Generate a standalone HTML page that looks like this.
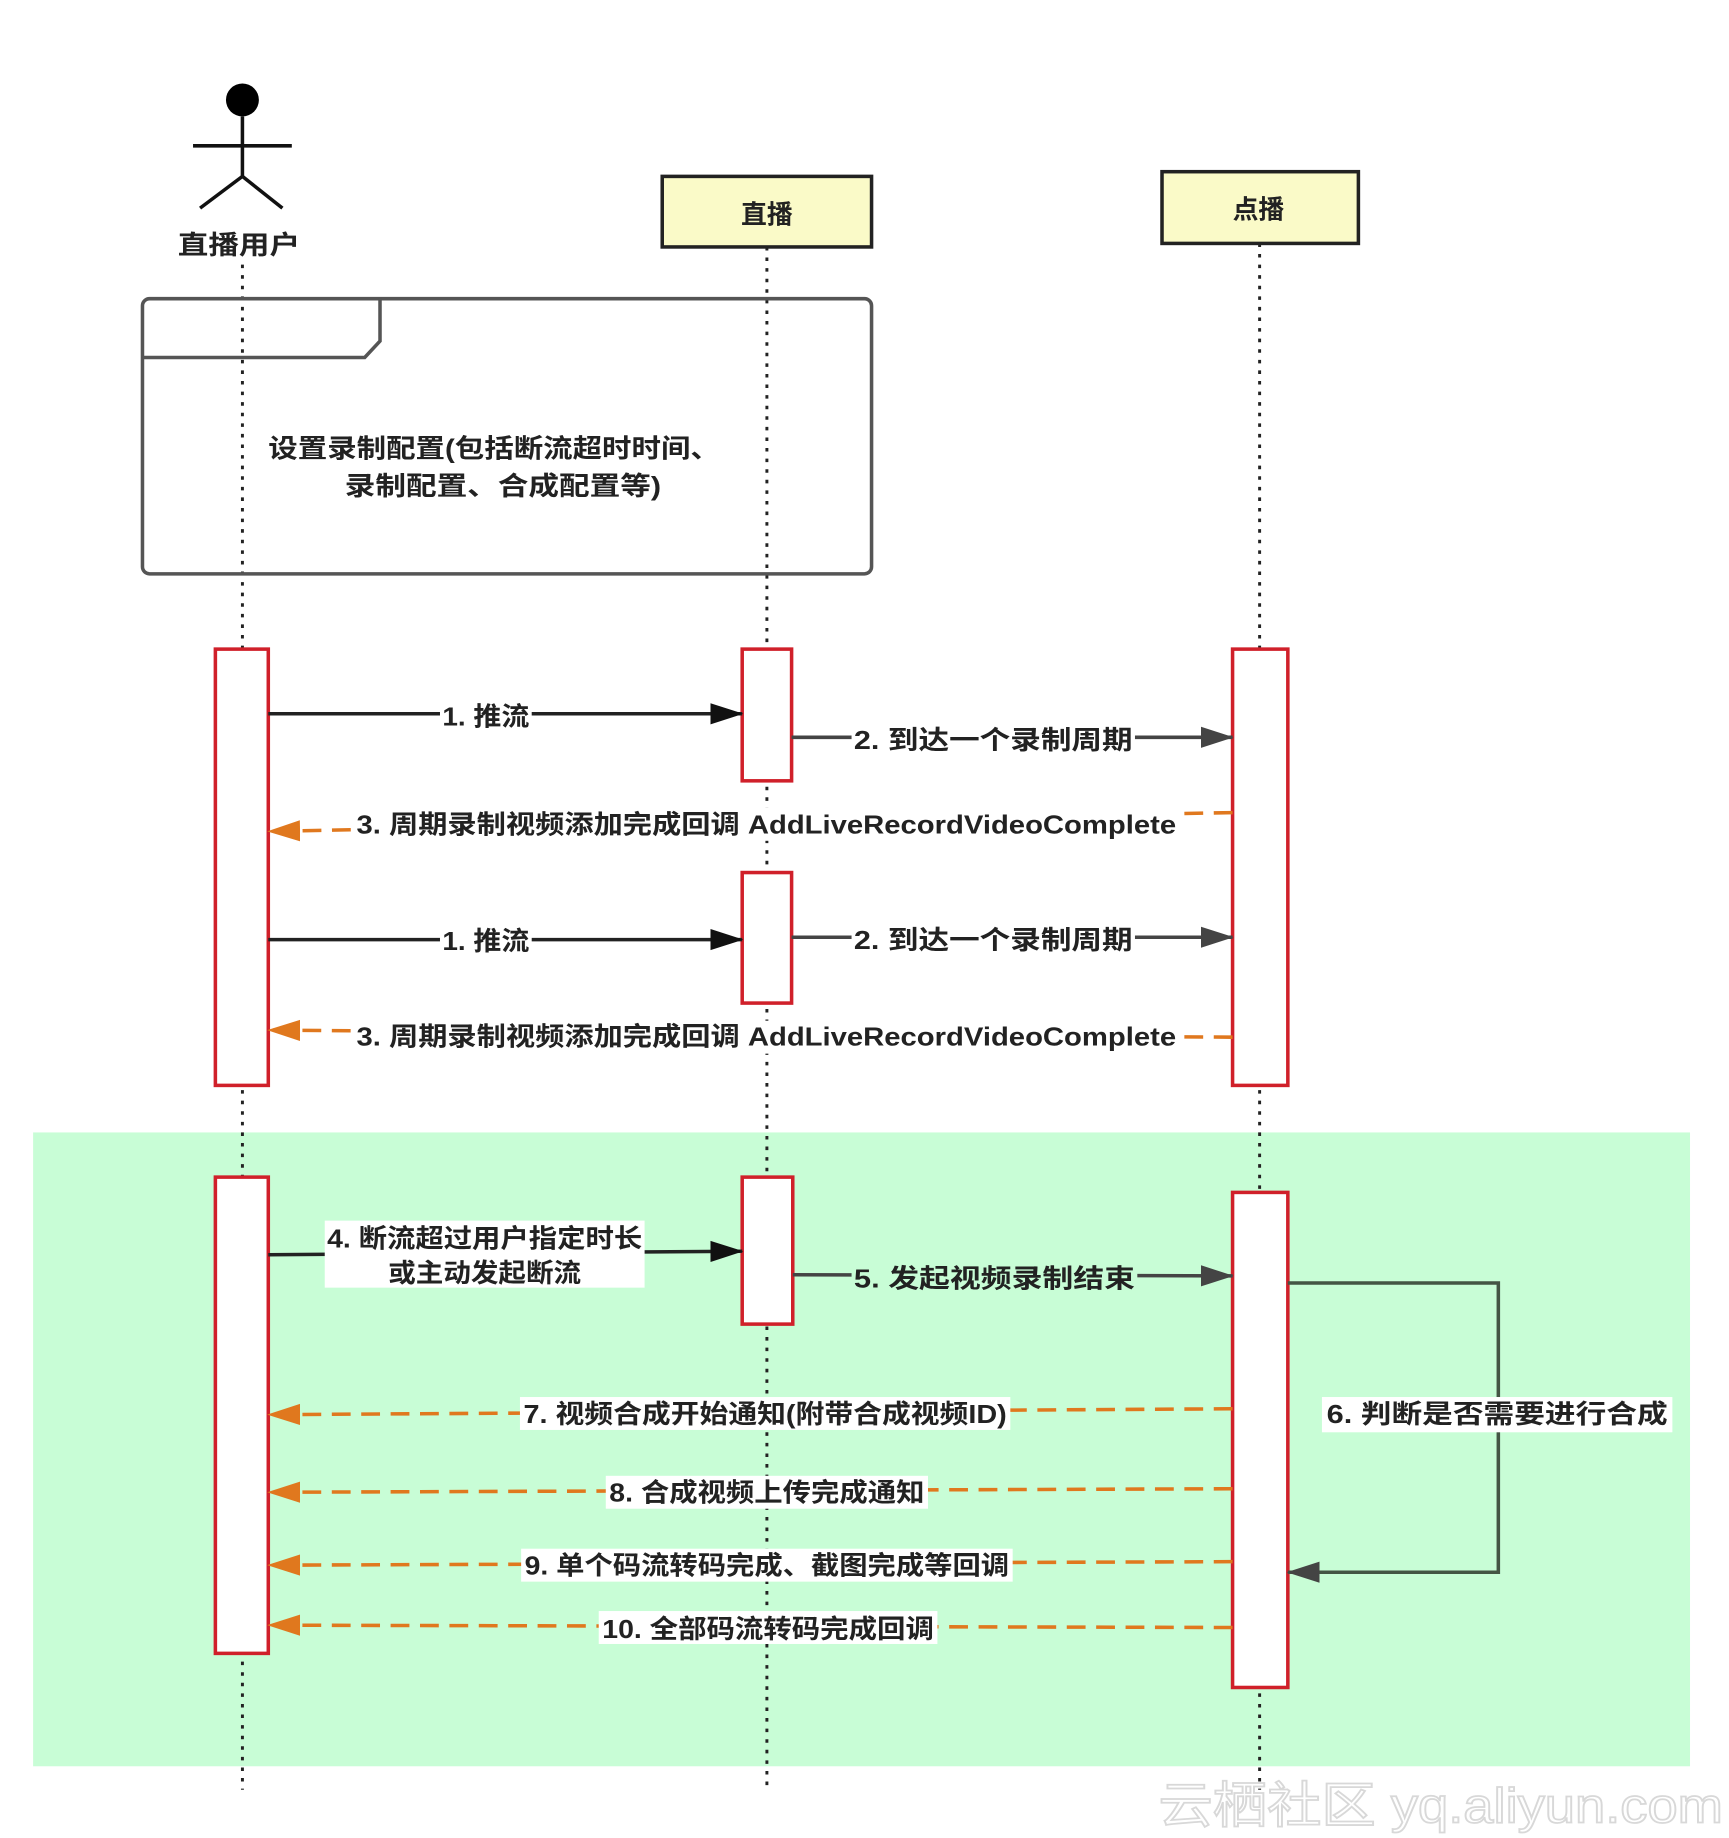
<!DOCTYPE html>
<html><head><meta charset="utf-8"><style>
html,body{margin:0;padding:0;background:#fff;}
svg{display:block;}
text{font-family:"Liberation Sans","Noto Sans CJK SC",sans-serif;font-weight:bold;fill:#222;}
</style></head><body>
<svg width="1729" height="1838" viewBox="0 0 1470 1563" xmlns="http://www.w3.org/2000/svg">
<defs>
<marker id="ag" markerWidth="28" markerHeight="20" refX="27" refY="10" orient="auto" markerUnits="userSpaceOnUse"><path d="M0,1 L28,10 L0,19 z" fill="#444"/></marker>
<marker id="ak" markerWidth="28" markerHeight="20" refX="27" refY="10" orient="auto" markerUnits="userSpaceOnUse"><path d="M0,1 L28,10 L0,19 z" fill="#111"/></marker>
<marker id="ao" markerWidth="28" markerHeight="20" refX="27" refY="10" orient="auto" markerUnits="userSpaceOnUse"><path d="M0,1 L28,10 L0,19 z" fill="#e0781e"/></marker>
</defs>
<rect x="28" y="963" width="1409" height="539" fill="#c8fdd6"/>
<circle cx="206" cy="85" r="14" fill="#000"/>
<g stroke="#111" stroke-width="3" fill="none">
<line x1="206" y1="99" x2="206" y2="150"/><line x1="164" y1="124" x2="248" y2="124"/>
<line x1="206" y1="150" x2="170" y2="177"/><line x1="206" y1="150" x2="240" y2="177"/>
</g>
<text x="151" y="216" font-size="22" textLength="104" lengthAdjust="spacingAndGlyphs">直播用户</text>
<rect x="563" y="150" width="178" height="60" fill="#fafac8" stroke="#222" stroke-width="3"/>
<text x="652" y="190" font-size="22" text-anchor="middle">直播</text>
<rect x="988" y="146" width="167" height="61" fill="#fafac8" stroke="#222" stroke-width="3"/>
<text x="1070" y="186" font-size="22" text-anchor="middle">点播</text>
<g stroke="#222" stroke-width="2.5" stroke-dasharray="3 6">
<line x1="206" y1="225" x2="206" y2="1522"/><line x1="652" y1="210" x2="652" y2="1522"/><line x1="1071" y1="207" x2="1071" y2="1522"/>
</g>
<rect x="121" y="254" width="620" height="234" rx="6" fill="none" stroke="#555" stroke-width="3"/>
<path d="M121,304 L310,304 L323,290 L323,254" fill="none" stroke="#555" stroke-width="3"/>
<text x="228" y="389" font-size="22" textLength="384" lengthAdjust="spacingAndGlyphs">设置录制配置(包括断流超时时间、</text>
<text x="293" y="421" font-size="22" textLength="269" lengthAdjust="spacingAndGlyphs">录制配置、合成配置等)</text>
<g fill="#fff" stroke="#d0202a" stroke-width="3">
<rect x="183" y="552" width="45" height="371"/><rect x="631" y="552" width="42" height="112"/>
<rect x="1048" y="552" width="47" height="371"/><rect x="631" y="742" width="42" height="111"/>
<rect x="183" y="1001" width="45" height="405"/><rect x="631" y="1001" width="43" height="125"/>
<rect x="1048" y="1014" width="47" height="421"/>
</g>
<g stroke-width="3" fill="none">
<line x1="228" y1="607" x2="631" y2="607" stroke="#222" marker-end="url(#ak)"/>
<line x1="673" y1="627" x2="1048" y2="627" stroke="#444" marker-end="url(#ag)"/>
<line x1="228" y1="799" x2="631" y2="799" stroke="#222" marker-end="url(#ak)"/>
<line x1="673" y1="797" x2="1048" y2="797" stroke="#444" marker-end="url(#ag)"/>
<line x1="228" y1="1067" x2="631" y2="1064" stroke="#222" marker-end="url(#ak)"/>
<line x1="674" y1="1084" x2="1048" y2="1085" stroke="#444" marker-end="url(#ag)"/>
<path d="M1095,1091 L1274,1091 L1274,1337 L1095,1337" stroke="#445544" marker-end="url(#ag)"/>
</g>
<g stroke="#e0781e" stroke-width="3" stroke-dasharray="16 9" fill="none">
<line x1="1048" y1="691" x2="228" y2="707" marker-end="url(#ao)"/>
<line x1="1048" y1="882" x2="228" y2="876" marker-end="url(#ao)"/>
<line x1="1048" y1="1198" x2="228" y2="1203" marker-end="url(#ao)"/>
<line x1="1048" y1="1266" x2="228" y2="1269" marker-end="url(#ao)"/>
<line x1="1048" y1="1328" x2="228" y2="1331" marker-end="url(#ao)"/>
<line x1="1048" y1="1384" x2="228" y2="1382" marker-end="url(#ao)"/>
</g>
<g fill="#fff">
<rect x="374" y="596" width="78" height="26"/><rect x="724" y="614" width="241" height="28"/>
<rect x="300" y="687" width="702" height="28"/>
<rect x="374" y="787" width="78" height="26"/><rect x="724" y="784" width="241" height="28"/>
<rect x="300" y="868" width="702" height="28"/>
<rect x="276" y="1038" width="272" height="57"/>
<rect x="442" y="1188" width="417" height="28"/><rect x="515" y="1255" width="274" height="28"/>
<rect x="443" y="1317" width="418" height="28"/><rect x="509" y="1370" width="288" height="28"/>
<rect x="1124" y="1188" width="298" height="30"/>
</g>
<rect x="724" y="1072" width="243" height="28" fill="#c8fdd6"/>
<g font-size="22" lengthAdjust="spacingAndGlyphs">
<text x="376" y="617" textLength="74" lengthAdjust="spacingAndGlyphs">1. 推流</text>
<text x="726" y="637" textLength="237" lengthAdjust="spacingAndGlyphs">2. 到达一个录制周期</text>
<text x="303" y="709" textLength="697" lengthAdjust="spacingAndGlyphs">3. 周期录制视频添加完成回调 AddLiveRecordVideoComplete</text>
<text x="376" y="808" textLength="74" lengthAdjust="spacingAndGlyphs">1. 推流</text>
<text x="726" y="807" textLength="237" lengthAdjust="spacingAndGlyphs">2. 到达一个录制周期</text>
<text x="303" y="889" textLength="697" lengthAdjust="spacingAndGlyphs">3. 周期录制视频添加完成回调 AddLiveRecordVideoComplete</text>
<text x="278" y="1061" textLength="268" lengthAdjust="spacingAndGlyphs">4. 断流超过用户指定时长</text>
<text x="330" y="1090" textLength="164" lengthAdjust="spacingAndGlyphs">或主动发起断流</text>
<text x="726" y="1095" textLength="239" lengthAdjust="spacingAndGlyphs">5. 发起视频录制结束</text>
<text x="1128" y="1210" textLength="290" lengthAdjust="spacingAndGlyphs">6. 判断是否需要进行合成</text>
<text x="445" y="1210" textLength="411" lengthAdjust="spacingAndGlyphs">7. 视频合成开始通知(附带合成视频ID)</text>
<text x="518" y="1277" textLength="268" lengthAdjust="spacingAndGlyphs">8. 合成视频上传完成通知</text>
<text x="446" y="1339" textLength="412" lengthAdjust="spacingAndGlyphs">9. 单个码流转码完成、截图完成等回调</text>
<text x="512" y="1393" textLength="282" lengthAdjust="spacingAndGlyphs">10. 全部码流转码完成回调</text>
</g>
<text x="985" y="1550" font-size="42" textLength="480" lengthAdjust="spacingAndGlyphs" style="font-weight:normal;fill:#fff;stroke:#d8d8d8;stroke-width:1.5">云栖社区 yq.aliyun.com</text>
</svg>
</body></html>
